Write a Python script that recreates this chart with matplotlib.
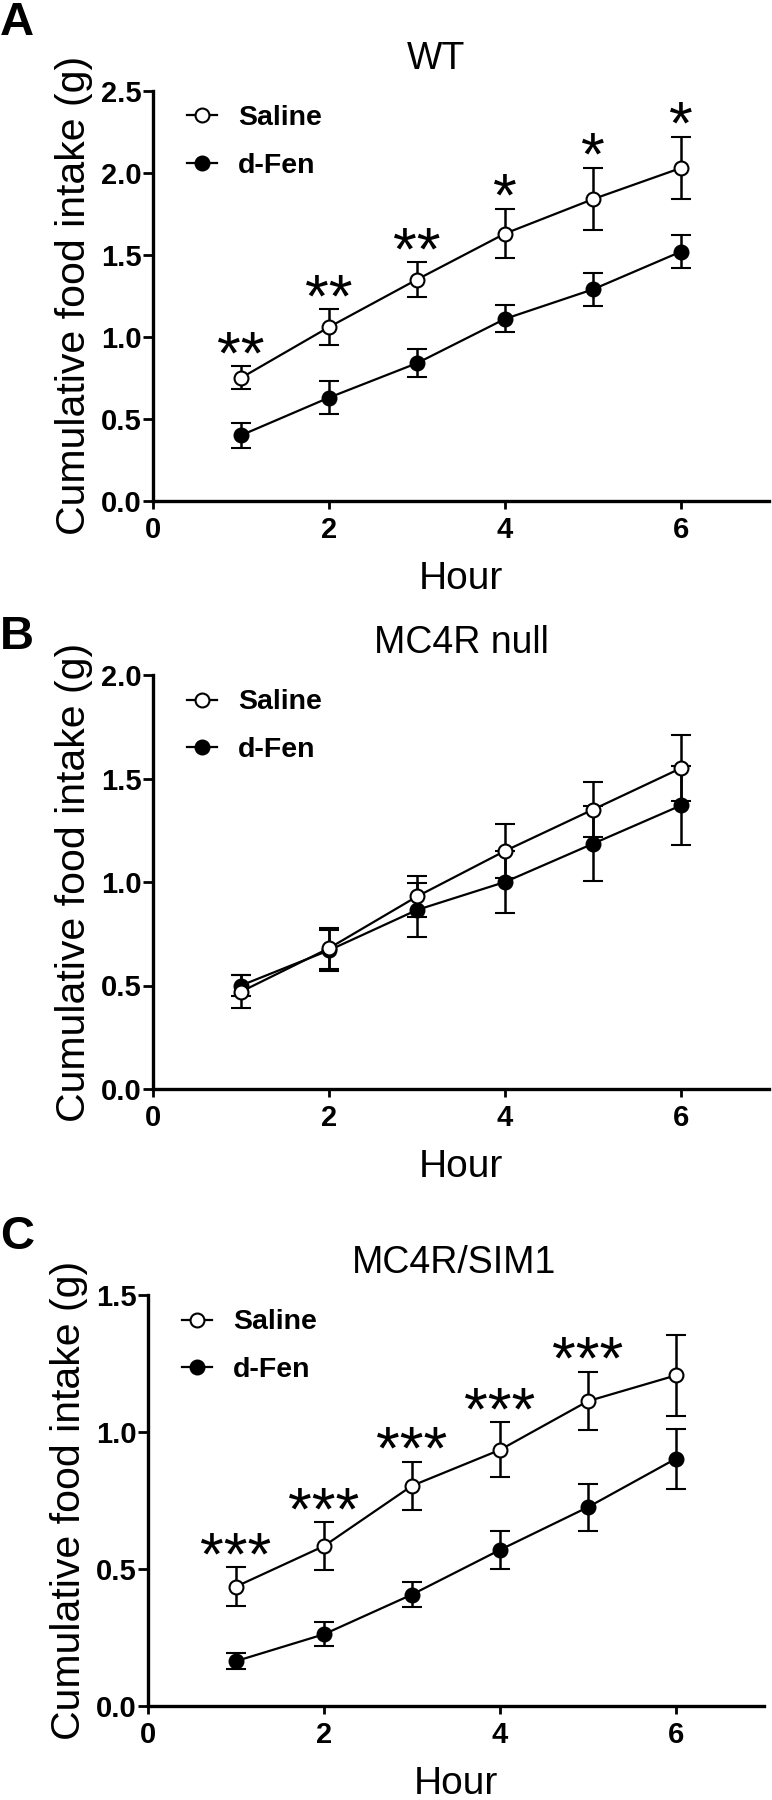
import matplotlib
matplotlib.use('Agg')
import matplotlib.pyplot as plt
from matplotlib.lines import Line2D

plt.rcParams['font.family'] = ['Liberation Sans', 'DejaVu Sans']

hours = [1, 2, 3, 4, 5, 6]

# panel A - WT
wt_saline = [0.75, 1.06, 1.35, 1.63, 1.84, 2.03]
wt_saline_err = [0.07, 0.11, 0.105, 0.15, 0.19, 0.19]
wt_dfen = [0.40, 0.63, 0.84, 1.11, 1.29, 1.52]
wt_dfen_err = [0.077, 0.10, 0.085, 0.083, 0.10, 0.10]
wt_stars = ['**', '**', '**', '*', '*', '*']

# panel B - MC4R null
null_saline = [0.47, 0.68, 0.93, 1.15, 1.35, 1.55]
null_saline_err = [0.08, 0.10, 0.10, 0.13, 0.135, 0.16]
null_dfen = [0.50, 0.67, 0.865, 1.00, 1.185, 1.37]
null_dfen_err = [0.05, 0.10, 0.13, 0.15, 0.18, 0.19]
null_stars = ['', '', '', '', '', '']

# panel C - MC4R/SIM1
sim_saline = [0.436, 0.584, 0.804, 0.935, 1.113, 1.207]
sim_saline_err = [0.07, 0.087, 0.088, 0.10, 0.107, 0.147]
sim_dfen = [0.164, 0.262, 0.407, 0.57, 0.726, 0.903]
sim_dfen_err = [0.03, 0.044, 0.047, 0.068, 0.086, 0.11]
sim_stars = ['***', '***', '***', '***', '***', '']

titles = ['WT', 'MC4R null', 'MC4R/SIM1']
letters = ['A', 'B', 'C']
ymax = [2.5, 2.0, 1.5]
yticks = [[0, 0.5, 1.0, 1.5, 2.0, 2.5], [0, 0.5, 1.0, 1.5, 2.0], [0, 0.5, 1.0, 1.5]]
xticks = [0, 2, 4, 6]

panels = [
    (wt_saline, wt_saline_err, wt_dfen, wt_dfen_err, wt_stars),
    (null_saline, null_saline_err, null_dfen, null_dfen_err, null_stars),
    (sim_saline, sim_saline_err, sim_dfen, sim_dfen_err, sim_stars),
]

# axes rectangles (figure fraction)
rects = [
    [0.1982, 0.7217, 0.7979, 0.2278],
    [0.1982, 0.3950, 0.7979, 0.2300],
    [0.1917, 0.0522, 0.7979, 0.2283],
]
title_x = [0.46, 0.50, 0.497]
letter_y = [23, 637, 1237]  # pixel from top

fig = plt.figure(figsize=(7.72, 18), dpi=100)

for i in range(3):
    sal, sal_err, dfen, dfen_err, stars = panels[i]
    ax = fig.add_axes(rects[i])
    ax.errorbar(hours, dfen, yerr=dfen_err, color='black', lw=1.6, marker='o',
                ms=10, mfc='black', mec='black', mew=1.5, capsize=7,
                elinewidth=1.8, capthick=1.8, clip_on=False, zorder=3)
    ax.errorbar(hours, sal, yerr=sal_err, color='black', lw=1.6, marker='o',
                ms=10, mfc='white', mec='black', mew=1.5, capsize=7,
                elinewidth=1.8, capthick=1.8, clip_on=False, zorder=4)

    # significance stars above the saline error bar
    for x, v, e, s in zip(hours, sal, sal_err, stars):
        if s:
            ax.annotate(s, (x, v + e), xytext=(0, -5), textcoords='offset points',
                        ha='center', va='baseline', fontsize=44)

    ax.set_xlim(0, 7)
    ax.set_ylim(0, ymax[i])
    ax.set_xticks(xticks)
    ax.set_yticks(yticks[i])
    ax.set_yticklabels(['%.1f' % t for t in yticks[i]])
    ax.spines['top'].set_visible(False)
    ax.spines['right'].set_visible(False)
    ax.spines['left'].set_linewidth(2.4)
    ax.spines['bottom'].set_linewidth(2.4)
    ax.tick_params(axis='y', length=7, width=2, pad=1, labelsize=21)
    ax.tick_params(axis='x', length=5.5, width=2, pad=5, labelsize=21)
    for lab in ax.get_xticklabels() + ax.get_yticklabels():
        lab.set_fontweight('bold')

    ax.annotate('Cumulative food intake (g)', (0, 0.5), xycoords='axes fraction',
                xytext=(-79, 0), textcoords='offset pixels', rotation=90,
                ha='center', va='center', fontsize=29.5)
    ax.annotate('Hour', (0.5, 0), xycoords='axes fraction', xytext=(0, -78),
                textcoords='offset pixels', ha='center', va='center', fontsize=28)
    ax.annotate(titles[i], (title_x[i], 1), xycoords='axes fraction', xytext=(0, 32),
                textcoords='offset pixels', ha='center', va='center', fontsize=27)

    handles = [Line2D([], [], color='black', lw=1.6, marker='o', ms=10, mfc='white',
                      mec='black', mew=1.5),
               Line2D([], [], color='black', lw=1.6, marker='o', ms=10, mfc='black',
                      mec='black', mew=1.5)]
    ax.legend(handles, ['Saline', 'd-Fen'], loc='upper left', bbox_to_anchor=(0.055, 0.965),
              frameon=False, borderaxespad=0, borderpad=0, handlelength=1.05,
              handletextpad=0.75, labelspacing=0.75, prop={'weight': 'bold', 'size': 20.5})

    fig.text(0.0, 1 - letter_y[i] / 1800.0, letters[i], fontsize=34, fontweight='bold',
             ha='left', va='center')

fig.savefig('out.png', dpi=100)
